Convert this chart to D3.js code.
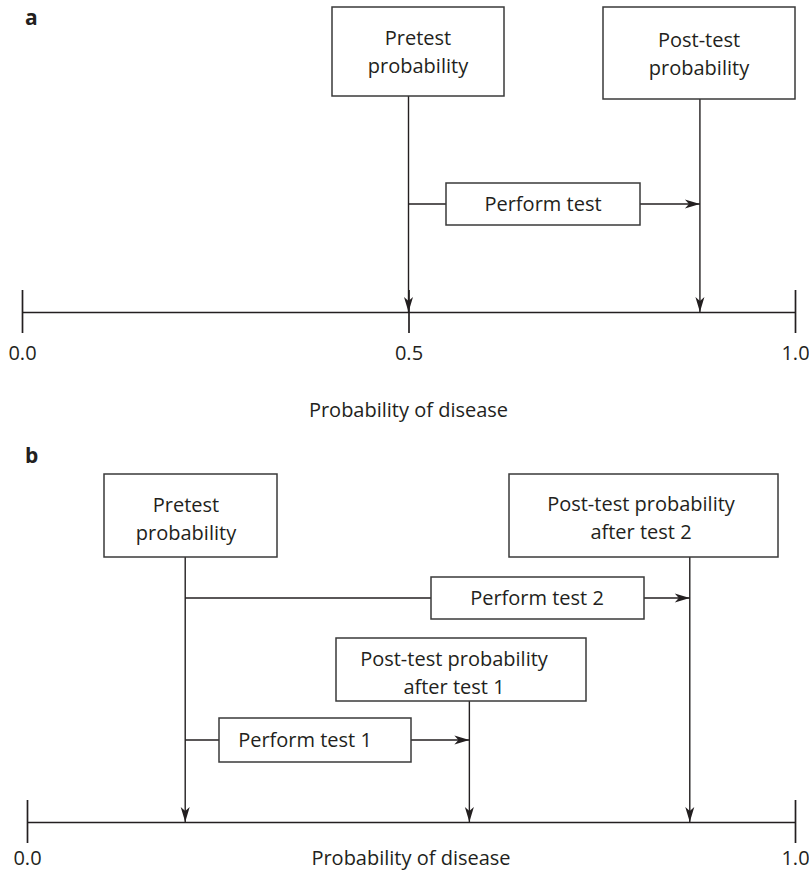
<!DOCTYPE html>
<html>
<head>
<meta charset="utf-8">
<script src="https://cdn.jsdelivr.net/npm/d3@7"></script>
<style>
  body { margin: 0; background: #fff; }
  text { font-family: "Open Sans", sans-serif; fill: #231f20; }
</style>
</head>
<body>
<div id="chart"></div>
<script>
/**
 * DATA
 * */
const tickValuesA = [0, 0.5, 1];
const tickValuesB = [0, 1];
const axisTitle = "Probability of disease";

// panel a: one test
const probsA = { pretest: 0.5, post: 0.877 };
// panel b: two tests from the same pretest probability
const probsB = { pretest: 0.206, post1: 0.576, post2: 0.863 };

const boxLabelsA = [["Pretest", "probability"], ["Post-test", "probability"], ["Perform test"]];
const boxLabelsB = [
  ["Pretest", "probability"],
  ["Post-test probability", "after test 2"],
  ["Perform test 2"],
  ["Post-test probability", "after test 1"],
  ["Perform test 1"],
];

/**
 * CONSTANTS
 * */
const width = 809,
  height = 871,
  ink = "#231f20";

const svg = d3.select("#chart")
  .append("svg")
  .attr("width", width)
  .attr("height", height);

svg.append("defs")
  .append("marker")
  .attr("id", "arrow")
  .attr("viewBox", "-16 -5 17 10")
  .attr("refX", 0)
  .attr("refY", 0)
  .attr("markerUnits", "userSpaceOnUse")
  .attr("markerWidth", 17)
  .attr("markerHeight", 10)
  .attr("orient", "auto")
  .append("path")
  .attr("d", "M0,0 L-15,-4.5 L-11,0 L-15,4.5 Z")
  .attr("fill", ink);

function drawAxis(x, y, ticks) {
  const g = svg.append("g")
    .attr("transform", `translate(0,${y})`)
    .call(d3.axisBottom(x).tickValues(ticks).tickFormat(d3.format(".1f")).tickSizeOuter(0));
  g.select(".domain").attr("stroke", ink).attr("stroke-width", 1.7);
  g.selectAll(".tick line").attr("y1", -22).attr("y2", 21).attr("stroke", ink).attr("stroke-width", 1.7);
  g.selectAll(".tick text")
    .attr("y", 48).attr("dy", null)
    .style("font-family", "'Open Sans', sans-serif")
    .style("font-size", "20px")
    .attr("fill", ink);
  return g;
}

// box: [x0, y0, x1, y1], text centre, first baseline
function drawBox(b, lines) {
  svg.append("rect")
    .attr("x", b.x0).attr("y", b.y0)
    .attr("width", b.x1 - b.x0).attr("height", b.y1 - b.y0)
    .attr("fill", "#fff").attr("stroke", "#3a3a3a").attr("stroke-width", 1.5);
  svg.append("text")
    .attr("text-anchor", "middle")
    .style("font-size", "20px")
    .selectAll("tspan")
    .data(lines)
    .join("tspan")
    .attr("x", b.cx)
    .attr("y", (d, i) => b.base + i * 27.5)
    .text(d => d);
}

function link(x1, y1, x2, y2, arrow) {
  svg.append("line")
    .attr("x1", x1).attr("y1", y1).attr("x2", x2).attr("y2", y2)
    .attr("stroke", ink).attr("stroke-width", 1.4)
    .attr("marker-end", arrow ? "url(#arrow)" : null);
}

/**
 * PANEL A
 * */
const xA = d3.scaleLinear().domain([0, 1]).range([22, 795]);
const axisYA = 312;

const boxesA = [
  { x0: 332, y0: 7, x1: 504, y1: 96, cx: 418, base: 45 },
  { x0: 603, y0: 7, x1: 795, y1: 99, cx: 699, base: 47 },
  { x0: 446, y0: 183, x1: 640, y1: 225, cx: 543, base: 211 },
];

link(xA(probsA.pretest), boxesA[0].y1, xA(probsA.pretest), axisYA, true);
link(xA(probsA.post), boxesA[1].y1, xA(probsA.post), axisYA, true);
link(xA(probsA.pretest), 204, boxesA[2].x0, 204, false);
link(boxesA[2].x1, 204, xA(probsA.post), 204, true);

drawAxis(xA, axisYA, tickValuesA);
boxesA.forEach((b, i) => drawBox(b, boxLabelsA[i]));

svg.append("text")
  .attr("x", xA(0.5)).attr("y", 417)
  .attr("text-anchor", "middle")
  .style("font-size", "20px")
  .text(axisTitle);

svg.append("text")
  .attr("x", 25).attr("y", 25)
  .style("font-size", "21px").style("font-weight", "bold")
  .text("a");

/**
 * PANEL B
 * */
const xB = d3.scaleLinear().domain([0, 1]).range([27, 795]);
const axisYB = 822;

const boxesB = [
  { x0: 104, y0: 474, x1: 277, y1: 557, cx: 186, base: 512 },
  { x0: 509, y0: 474, x1: 778, y1: 557, cx: 641, base: 511 },
  { x0: 431, y0: 577, x1: 644, y1: 619, cx: 537, base: 605 },
  { x0: 336, y0: 638, x1: 586, y1: 701, cx: 454, base: 666 },
  { x0: 219, y0: 718, x1: 411, y1: 762, cx: 305, base: 747 },
];

link(xB(probsB.pretest), boxesB[0].y1, xB(probsB.pretest), axisYB, true);
link(xB(probsB.post2), boxesB[1].y1, xB(probsB.post2), axisYB, true);
link(xB(probsB.post1), boxesB[3].y1, xB(probsB.post1), axisYB, true);
link(xB(probsB.pretest), 598, boxesB[2].x0, 598, false);
link(boxesB[2].x1, 598, xB(probsB.post2), 598, true);
link(xB(probsB.pretest), 740, boxesB[4].x0, 740, false);
link(boxesB[4].x1, 740, xB(probsB.post1), 740, true);

const gB = drawAxis(xB, axisYB, tickValuesB);
gB.selectAll(".tick text").attr("y", 43);

boxesB.forEach((b, i) => drawBox(b, boxLabelsB[i]));

svg.append("text")
  .attr("x", 411).attr("y", axisYB + 43)
  .attr("text-anchor", "middle")
  .style("font-size", "20px")
  .text(axisTitle);

svg.append("text")
  .attr("x", 25).attr("y", 463)
  .style("font-size", "21px").style("font-weight", "bold")
  .text("b");
</script>
</body>
</html>
